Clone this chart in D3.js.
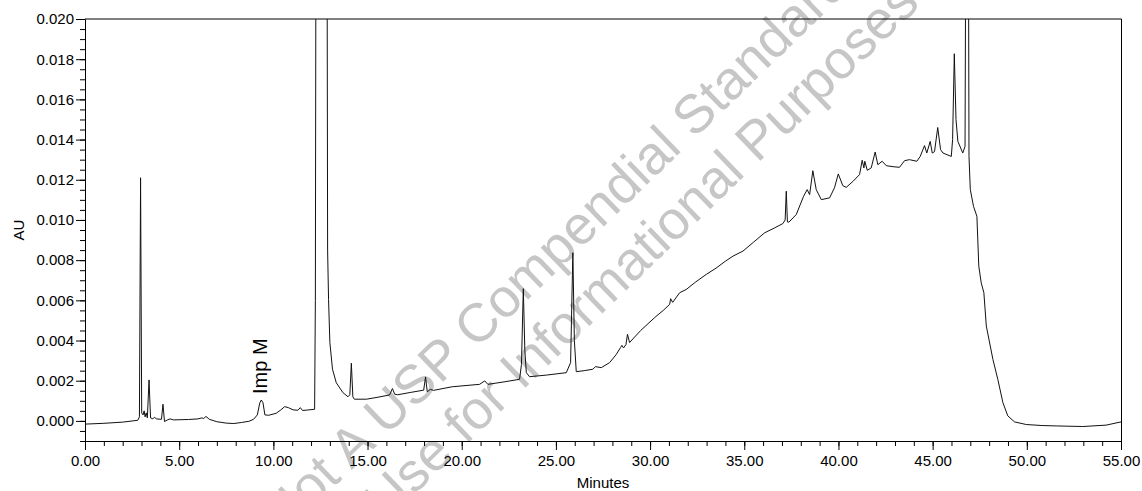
<!DOCTYPE html>
<html>
<head>
<meta charset="utf-8">
<script src="https://cdn.jsdelivr.net/npm/d3@7"></script>
<style>
body{margin:0;background:#fff;}
svg{display:block;font-family:Arial,"Liberation Sans",sans-serif;}
</style>
</head>
<body>
<div id="chart"></div>
<script>

// chromatogram trace, minutes vs AU
var times = [
  0.00, 1.00, 2.00, 2.80, 2.89, 2.95, 3.01, 3.08, 3.14, 3.19, 3.25, 3.31, 3.40, 3.48, 3.60, 3.68, 3.80,
  4.06, 4.14, 4.22, 4.40, 4.52, 4.70, 5.50, 6.00, 6.20, 6.30, 6.42, 6.60, 7.00, 7.50, 7.90, 8.30, 8.70,
  8.95, 9.15, 9.28, 9.36, 9.45, 9.55, 9.75, 10.15, 10.40, 10.60, 10.80, 11.05, 11.30, 11.43, 11.55, 11.80,
  12.19, 12.23, 12.27, 12.55, 12.84, 12.88, 12.93, 13.00, 13.14, 13.34, 13.69, 13.96, 14.06, 14.14, 14.22,
  14.30, 14.94, 15.50, 16.17, 16.32, 16.44, 16.60, 17.30, 17.98, 18.08, 18.17, 18.33, 18.50, 19.50, 20.95,
  21.22, 21.39, 22.30, 23.07, 23.17, 23.27, 23.35, 23.43, 23.60, 24.50, 25.55, 25.78, 25.90, 25.98, 26.08,
  26.50, 26.96, 27.10, 27.41, 27.85, 28.20, 28.43, 28.50, 28.59, 28.72, 28.80, 28.91, 29.50, 30.24, 30.70,
  31.04, 31.09, 31.20, 31.57, 31.92, 32.40, 32.98, 33.50, 34.00, 34.40, 34.93, 35.50, 36.08, 36.60, 37.05,
  37.17, 37.23, 37.29, 37.37, 37.76, 38.15, 38.34, 38.47, 38.64, 38.82, 39.09, 39.53, 39.79, 39.99, 40.23,
  40.41, 40.77, 41.12, 41.26, 41.35, 41.40, 41.53, 41.74, 41.95, 42.09, 42.32, 42.54, 42.90, 43.24, 43.51,
  43.77, 44.16, 44.34, 44.57, 44.69, 44.87, 44.98, 45.10, 45.27, 45.42, 45.55, 45.99, 46.06, 46.15, 46.24,
  46.34, 46.60, 46.72, 46.78, 46.84, 46.90, 46.93, 47.00, 47.17, 47.35, 47.45, 47.58, 47.72, 47.85, 48.20,
  48.46, 48.73, 48.99, 49.35, 49.97, 50.80, 51.56, 52.97, 54.21, 55.00
];
var absorbance = [
  -0.00016, -0.00012, -0.00006, 0.00003, 0.0002, 0.0121, 0.0004, 0.0003, 0.0005, 0.0002, 0.0004, 0.00015, 0.00204, 0.00015, 0.0001, 0.00018, 0.0001,
  0.00008, 0.00083, -0.00003, 0.00006, 0.0001, 0.00005, 0.00007, 0.0001, 0.00015, 0.00012, 0.00022, 0.00008, -0.00004, -0.00011, -0.00013, -0.00008, -0.00002,
  0.00008, 0.0003, 0.0009, 0.00104, 0.0009, 0.0003, 0.00028, 0.00038, 0.00055, 0.00071, 0.00066, 0.00055, 0.00053, 0.00066, 0.00052, 0.00054,
  0.00058, 0.006, 0.03, 0.06, 0.03, 0.0085, 0.00605, 0.0039, 0.00257, 0.0019, 0.00141, 0.0012, 0.0013, 0.00287, 0.0012,
  0.00108, 0.00108, 0.00117, 0.00129, 0.00161, 0.00133, 0.0013, 0.00142, 0.00153, 0.00219, 0.00145, 0.00157, 0.00152, 0.0017, 0.00182,
  0.00199, 0.00182, 0.00195, 0.00207, 0.0028, 0.00658, 0.0035, 0.0024, 0.0022, 0.00228, 0.0024, 0.0029, 0.00837, 0.004, 0.00245,
  0.0025, 0.00257, 0.0027, 0.00265, 0.0029, 0.0033, 0.00365, 0.00376, 0.00363, 0.0038, 0.00431, 0.0039, 0.0045, 0.00514, 0.0055,
  0.0058, 0.00608, 0.0059, 0.00638, 0.00654, 0.0069, 0.00729, 0.0076, 0.00795, 0.0082, 0.00845, 0.0089, 0.00936, 0.0096, 0.00982,
  0.0100, 0.01143, 0.0099, 0.00989, 0.01027, 0.01118, 0.01151, 0.01126, 0.01245, 0.01151, 0.01101, 0.0111, 0.0116, 0.01229, 0.01171,
  0.01162, 0.01192, 0.01226, 0.01297, 0.01259, 0.01292, 0.01247, 0.01259, 0.01338, 0.01275, 0.01292, 0.0127, 0.01265, 0.01262, 0.01295,
  0.013, 0.01292, 0.01316, 0.0137, 0.01333, 0.01391, 0.01333, 0.0134, 0.0146, 0.0135, 0.01333, 0.01316, 0.0140, 0.01827, 0.0150,
  0.01391, 0.01333, 0.01366, 0.03, 0.06, 0.025, 0.01316, 0.01151, 0.01068, 0.01018, 0.0077, 0.00687, 0.00638, 0.00472, 0.00306,
  0.00207, 0.00091, 0.00025, -0.00005, -0.00018, -0.00023, -0.00025, -0.00028, -0.00021, -0.00005
];

var xTickValues = [0, 5, 10, 15, 20, 25, 30, 35, 40, 45, 50, 55];
var yTickValues = [0, 0.002, 0.004, 0.006, 0.008, 0.010, 0.012, 0.014, 0.016, 0.018, 0.020];

var peakNames = ["Imp M"];
var peakTimes = [9.36];
var peakHeights = [0.00104];

var watermarkLines = ["Not A USP Compendial Standard", "Use for Informational Purposes Only"];

var width = 1142, height = 491;
var margin = {top: 19, right: 21, bottom: 50, left: 85};

var x = d3.scaleLinear()
          .domain([0, 55])
          .range([margin.left, width - margin.right]);
var y = d3.scaleLinear()
          .domain([-0.001, 0.020])
          .range([height - margin.bottom, margin.top]);

var svg = d3.select("#chart").append("svg")
      .attr("width", width)
      .attr("height", height);

// watermark, behind everything (runs off the page like the original)
var wm = svg.append("g")
      .attr("fill", "#c6c6c6")
      .attr("font-size", 54)
      .attr("text-anchor", "middle");
wm.append("text")
  .attr("transform", "translate(567,262) rotate(-44)")
  .text(watermarkLines[0]);
wm.append("text")
  .attr("transform", "translate(699,220) rotate(-44)")
  .text(watermarkLines[1]);

svg.append("clipPath").attr("id", "plotClip")
  .append("rect")
    .attr("x", x(0) + 0.5)
    .attr("y", y(0.020))
    .attr("width", x(55) - x(0))
    .attr("height", y(-0.001) - y(0.020) + 0.5);

// frame: top and right
svg.append("line")
   .attr("x1", x(0)).attr("x2", x(55) + 0.5)
   .attr("y1", y(0.020)).attr("y2", y(0.020))
   .attr("stroke", "#000");
svg.append("line")
   .attr("x1", x(55) + 0.5).attr("x2", x(55) + 0.5)
   .attr("y1", y(0.020)).attr("y2", y(-0.001) + 0.5)
   .attr("stroke", "#000");

// x axis, minor then major
svg.append("g")
   .attr("transform", "translate(0," + y(-0.001) + ")")
   .call(d3.axisBottom(x).tickValues(d3.range(0, 56, 1)).tickSize(5).tickSizeOuter(0).tickFormat(""));
var xAxis = svg.append("g")
   .attr("transform", "translate(0," + y(-0.001) + ")")
   .call(d3.axisBottom(x).tickValues(xTickValues).tickSize(9).tickSizeOuter(0).tickPadding(5)
          .tickFormat(d3.format(".2f")));

// y axis, minor then major
svg.append("g")
   .attr("transform", "translate(" + x(0) + ",0)")
   .call(d3.axisLeft(y).tickValues(d3.range(-0.001, 0.02025, 0.0005)).tickSize(5).tickSizeOuter(0).tickFormat(""));
var yAxis = svg.append("g")
   .attr("transform", "translate(" + x(0) + ",0)")
   .call(d3.axisLeft(y).tickValues(yTickValues).tickSize(9).tickSizeOuter(0).tickPadding(2)
          .tickFormat(d3.format(".3f")));

svg.selectAll(".tick text")
   .attr("font-size", 15)
   .attr("font-family", "Arial, 'Liberation Sans', sans-serif")
   .attr("fill", "#000");

// trace
var line = d3.line()
      .x(function(d, i) { return x(times[i]); })
      .y(function(d) { return y(d); });

svg.append("path")
   .datum(absorbance)
   .attr("clip-path", "url(#plotClip)")
   .attr("fill", "none")
   .attr("stroke", "#111")
   .attr("stroke-width", 1)
   .attr("d", line);

// peak label
svg.selectAll(".peakLabel")
   .data(peakNames)
   .enter().append("text")
   .attr("class", "peakLabel")
   .attr("font-size", 20)
   .attr("transform", function(d, i) {
       return "translate(" + (x(peakTimes[i]) + 6) + "," + (y(peakHeights[i]) - 6) + ") rotate(-90)";
   })
   .text(function(d) { return d; });

// axis titles
svg.append("text")
   .attr("font-size", 15)
   .attr("text-anchor", "middle")
   .attr("transform", "translate(24," + y(0.0095) + ") rotate(-90)")
   .text("AU");
svg.append("text")
   .attr("font-size", 15)
   .attr("text-anchor", "middle")
   .attr("x", (x(0) + x(55)) / 2)
   .attr("y", 488)
   .text("Minutes");

</script>
</body>
</html>
